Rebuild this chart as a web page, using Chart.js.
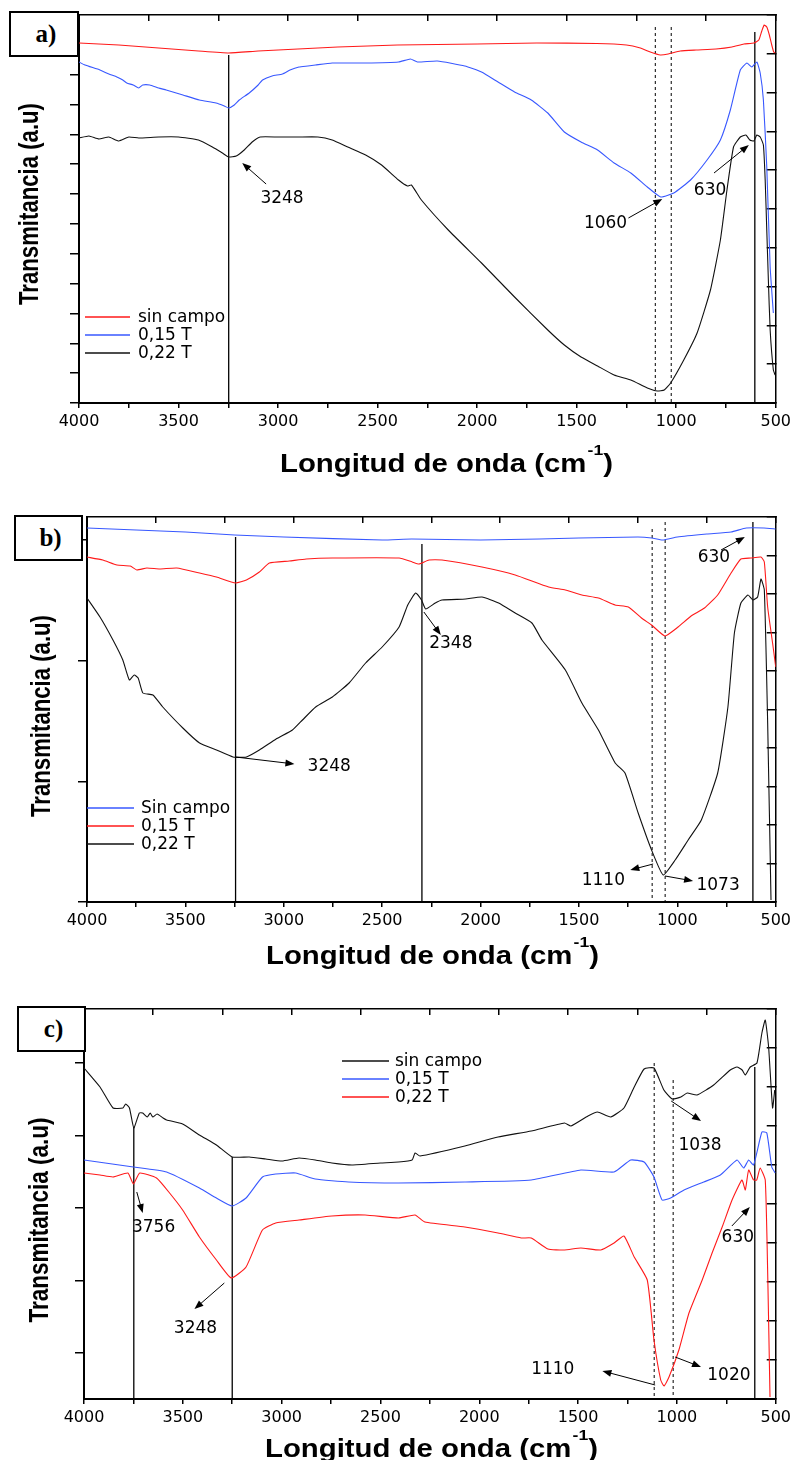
<!DOCTYPE html>
<html>
<head>
<meta charset="utf-8">
<script src="https://cdn.jsdelivr.net/npm/chart.js@4.4.1/dist/chart.umd.min.js"></script>
<style>
body{margin:0;background:#fff;width:795px;height:1460px;position:relative;overflow:hidden}
canvas{position:absolute;left:0}
.tag{position:absolute;border:2px solid #000;box-sizing:border-box;background:#fff;font:bold 25px "Liberation Serif","DejaVu Serif",serif;display:flex;align-items:center;justify-content:center;padding-left:4px}
</style>
</head>
<body>
<canvas id="chA" width="795" height="490" style="top:0"></canvas>
<canvas id="chB" width="795" height="490" style="top:490px"></canvas>
<canvas id="chC" width="795" height="480" style="top:980px"></canvas>
<div class="tag" style="left:9px;top:11px;width:70px;height:46px">a)</div>
<div class="tag" style="left:14px;top:515px;width:69px;height:46px">b)</div>
<div class="tag" style="left:17px;top:1006px;width:69px;height:46px">c)</div>
<script>
/* FTIR — Transmitancia vs longitud de onda, tres paneles */

const RED='#ff1a1a',BLUE='#3858ff',BLACK='#111';
const labelsA=['sin campo','0,15 T','0,22 T'];
const labelsB=['Sin campo','0,15 T','0,22 T'];
const labelsC=['sin campo','0,15 T','0,22 T'];

// panel a) -------------------------------------------------------
const aRedX=[4000,3800,3600,3400,3248,3100,2900,2700,2400,2000,1700,1400,1250,1180,1130,1080,1040,980,900,800,720,660,610,585,570,558,545,532,520,510,502];
const aRedY=[360,358,355,352,350,352,354,356,358,359,360,359.5,358,355,351,348,349,352,353,354,356,359,360,363,372,378,376,368,358,351,350];
const aBlueX=[4000,3970,3895,3850,3810,3780,3760,3728,3700,3680,3645,3600,3562,3478,3395,3312,3270,3248,3220,3195,3145,3100,3078,3030,2978,2940,2895,2850,2812,2728,2562,2395,2335,2300,2200,2062,1978,1895,1812,1728,1645,1562,1478,1395,1312,1228,1145,1078,1012,928,845,778,728,678,645,620,595,578,562,545,528,512];
const aBlueY=[341,338,333,329,326,323,320,318,315,318,318,315,313,308,303,300,297,295,298,303,310,318,323,327,329,333,336,337,338,340,340,341,344,341,342,337,331,321,311,303,290,271,261,253,240,230,216,206,210,223,243,263,293,333,340,336,341,330,303,236,136,90];
const aBlackX=[4000,3950,3900,3850,3800,3750,3700,3600,3500,3400,3330,3280,3248,3210,3170,3130,3090,3000,2900,2800,2728,2650,2560,2480,2395,2350,2330,2280,2145,1978,1812,1645,1562,1478,1395,1312,1228,1145,1095,1060,1028,962,895,828,778,745,712,678,650,630,610,595,578,562,553,545,537,528,512,503];
const aBlackY=[265,267,264,266,262,266,265,266,266,263,256,250,246,247,253,261,266,266,266,266,263,256,248,238,223,217,218,203,173,140,106,73,58,46,37,28,23,15,12,13,20,43,70,113,163,213,256,266,268,263,262,268,266,258,223,173,123,73,33,28];
const aMarks=[[3248,348,0],[605,371,0],[1105,376,1],[1025,376,1]];
const aNotes=[
  {t:'3248',x:2980,y:204,ax:[3060,219,3180,240]},
  {t:'1060',x:1355,y:179,ax:[1240,185,1070,204]},
  {t:'630',x:830,y:212,ax:[810,230,635,258]}
];

// panel b) -------------------------------------------------------
const bBlueX=[4000,3500,3250,3000,2500,2350,2000,1700,1500,1200,1130,1075,1000,850,727,650,560,500];
const bBlueY=[374,370,367,365,362,363,362,363,364,365,364,362,365,368,370,374,374,373];
const bRedX=[4000,3920,3848,3780,3747,3696,3630,3544,3428,3342,3245,3190,3124,3073,2972,2886,2753,2414,2347,2313,2262,2196,1993,1824,1654,1569,1485,1401,1316,1249,1182,1131,1063,996,930,862,795,727,677,626,575,558,541,516,500];
const bRedY=[345,342,337,336,332,334,333,334,329,325,319,322,330,339,341,343,344,344,340,338,342,342,335,327,315,312,307,304,297,295,284,277,266,275,286,294,307,329,343,344,345,340,295,259,235];
const bBlackX=[4000,3934,3868,3818,3785,3760,3740,3716,3665,3615,3513,3428,3342,3258,3190,3124,3039,2956,2905,2838,2753,2668,2584,2500,2414,2370,2330,2300,2279,2230,2196,2076,1993,1908,1824,1739,1688,1569,1485,1401,1316,1266,1199,1131,1072,1011,945,878,795,743,710,677,641,616,592,575,558,541,524];
const bBlackY=[304,285,262,242,222,227,224,209,207,195,174,159,152,145,145,152,163,172,182,195,205,219,239,255,275,297,309,302,293,299,302,303,305,299,289,279,262,232,199,172,139,129,89,52,27,42,62,82,129,195,269,299,307,302,305,323,312,179,2];
const bMarks=[[3245,365,0],[2298,358,0],[616,380,0],[1128,373,1],[1062,380,1]];
const bNotes=[
  {t:'3248',x:2769,y:135,ax:[3245,145,2946,138]},
  {t:'2348',x:2151,y:258,ax:[2288,290,2202,267]},
  {t:'630',x:814,y:344,ax:[778,352,657,365]},
  {t:'1110',x:1376,y:21,ax:[1123,38,1239,32]},
  {t:'1073',x:793,y:16,ax:[1062,26,920,21]}
];

// panel c) -------------------------------------------------------
const cBlackX=[4000,3919,3853,3803,3789,3770,3748,3720,3703,3680,3665,3652,3630,3600,3582,3501,3416,3330,3250,3164,3080,2998,2912,2830,2746,2644,2500,2409,2340,2325,2300,2073,1905,1737,1569,1536,1450,1402,1335,1268,1216,1166,1116,1066,1024,980,948,898,814,730,696,670,654,629,595,570,553,536,516,505];
const cBlackY=[331,312,291,291,295,291,271,286,286,282,286,282,285,281,279,275,264,254,242,242,240,238,241,239,236,234,236,237,239,246,243,253,262,268,276,273,283,287,282,291,312,330,331,309,300,302,306,304,314,329,332,329,324,332,336,366,379,352,291,309];
const cBlueX=[4000,3750,3582,3416,3330,3250,3180,3097,3030,2929,2830,2662,2409,2073,1737,1486,1318,1234,1166,1116,1075,1032,964,864,780,696,662,637,612,570,545,520,503];
const cBlueY=[239,232,227,211,201,193,201,222,225,226,220,217,216,217,219,229,227,239,237,222,199,201,209,217,224,239,231,239,234,267,266,232,226];
const cRedX=[4000,3919,3853,3778,3750,3718,3633,3567,3501,3416,3330,3255,3180,3097,3030,2912,2746,2578,2409,2325,2275,2073,1905,1788,1737,1653,1569,1486,1385,1318,1268,1216,1150,1116,1082,1065,1040,990,939,872,822,771,721,671,654,637,612,596,579,553,540,529];
const cRedY=[226,224,222,226,215,226,221,206,189,162,139,121,132,169,176,179,183,184,181,184,177,172,166,161,161,150,149,151,149,156,163,142,119,59,19,13,22,49,86,119,146,172,199,219,209,229,219,219,231,219,119,2];
const cMarks=[[3748,272,0],[3250,242,0],[606,332,0],[1115,336,1],[1019,319,1]];
const cNotes=[
  {t:'3756',x:3648,y:171,ax:[3733,207,3703,186]},
  {t:'3248',x:3436,y:70,ax:[3290,116,3441,90]},
  {t:'1038',x:883,y:253,ax:[1029,298,878,278]},
  {t:'630',x:692,y:161,ax:[722,173,631,192]},
  {t:'1110',x:1628,y:29,ax:[1110,14,1377,28]},
  {t:'1020',x:737,y:23,ax:[1009,42,878,32]}
];
const cLeftTicks=[46,118.5,191,263.5,336];

function arrow(ctx,x1,y1,x2,y2){
  const a=Math.atan2(y2-y1,x2-x1),L=9,W=3.5;
  ctx.lineWidth=1;
  ctx.beginPath();ctx.moveTo(x1,y1);ctx.lineTo(x2-Math.cos(a)*L*0.8,y2-Math.sin(a)*L*0.8);ctx.stroke();
  ctx.beginPath();ctx.moveTo(x2,y2);
  ctx.lineTo(x2-Math.cos(a)*L+Math.sin(a)*W,y2-Math.sin(a)*L-Math.cos(a)*W);
  ctx.lineTo(x2-Math.cos(a)*L-Math.sin(a)*W,y2-Math.sin(a)*L+Math.cos(a)*W);
  ctx.closePath();ctx.fill();
}

function deco(p){
  return {id:'deco',afterDraw(chart){
    const ctx=chart.ctx,xs=chart.scales.x,ys=chart.scales.y;
    const px=w=>xs.getPixelForValue(w),py=v=>ys.getPixelForValue(v);
    ctx.save();
    ctx.fillStyle='#000';ctx.strokeStyle='#000';
    // peak labels + arrows
    ctx.font='17px "DejaVu Sans"';ctx.textAlign='center';ctx.textBaseline='middle';
    p.notes.forEach(n=>{
      ctx.fillText(n.t,px(n.x),py(n.y));
      arrow(ctx,px(n.ax[0]),py(n.ax[1]),px(n.ax[2]),py(n.ax[3]));
    });
    // legend
    ctx.font='17px "DejaVu Sans"';ctx.textAlign='left';
    p.series.forEach((s,i)=>{
      const yy=p.leg.y+i*18;
      ctx.strokeStyle=s.color;ctx.lineWidth=1.4;
      ctx.beginPath();ctx.moveTo(p.leg.x0,yy);ctx.lineTo(p.leg.x1,yy);ctx.stroke();
      ctx.fillText(s.label,p.leg.tx,yy+1);
    });
    // y title
    ctx.save();
    ctx.translate(p.yt.x,p.yt.y);ctx.rotate(-Math.PI/2);
    ctx.font='bold 28px "Liberation Sans", Arial, sans-serif';ctx.textAlign='center';
    const yw=ctx.measureText('Transmitancia (a.u)').width;
    ctx.scale(p.yt.len/yw,1);
    ctx.fillText('Transmitancia (a.u)',0,0);
    ctx.restore();
    // x title with superscript
    ctx.save();
    ctx.textAlign='left';ctx.textBaseline='alphabetic';
    const f1='bold 25px "Liberation Sans", Arial, sans-serif',f2='bold 15px "Liberation Sans", Arial, sans-serif';
    const t1='Longitud de onda (cm',t2='-1',t3=')';
    ctx.font=f1;const w1=ctx.measureText(t1).width,w3=ctx.measureText(t3).width;
    ctx.font=f2;const w2=ctx.measureText(t2).width;
    ctx.translate(p.xt.x,p.xt.y);ctx.scale(p.xt.len/(w1+w2+w3+1),1);
    ctx.font=f1;ctx.fillText(t1,0,0);
    ctx.font=f2;ctx.fillText(t2,w1+1,-17);
    ctx.font=f1;ctx.fillText(t3,w1+w2+1,0);
    ctx.restore();
    ctx.restore();
  }};
}

function buildPanel(id,p){
  const sets=p.series.map(s=>({
    data:s.x.map((w,i)=>({x:w,y:s.y[i]})),
    borderColor:s.color,borderWidth:1.1,pointRadius:0,tension:0.15,fill:false
  }));
  p.marks.forEach(m=>sets.push({
    data:[{x:m[0],y:m[1]},{x:m[0],y:0}],
    borderColor:'#000',borderWidth:m[2]?1:1.3,borderDash:m[2]?[3,3]:[],pointRadius:0,fill:false
  }));
  const yLeft={type:'linear',position:'left',min:0,max:p.yMax,
    ticks:{display:false,stepSize:p.leftStep,includeBounds:false},
    grid:{drawOnChartArea:false,tickLength:9,color:'#000',lineWidth:1.5},
    border:{color:'#000',width:2},
    afterFit:s=>{s.width=p.leftW}};
  if(p.leftTicks) yLeft.afterBuildTicks=s=>{s.ticks=p.leftTicks.map(v=>({value:v}))};
  new Chart(document.getElementById(id),{
    type:'line',
    data:{datasets:sets},
    options:{
      responsive:false,animation:false,
      layout:{padding:0},
      plugins:{legend:{display:false},tooltip:{enabled:false}},
      scales:{
        x:{type:'linear',position:'bottom',reverse:true,min:500,max:4000,
          ticks:{stepSize:250,autoSkip:false,maxRotation:0,padding:4,color:'#000',
            font:{family:'DejaVu Sans',size:16},callback:v=>v%500===0?String(v):''},
          grid:{drawOnChartArea:false,tickLength:5,color:'#000',lineWidth:1.5},
          border:{color:'#000',width:2},
          afterFit:s=>{s.height=p.bottomH}},
        xTop:{type:'linear',position:'top',reverse:true,min:500,max:4000,
          ticks:{display:false,stepSize:350},
          grid:{drawOnChartArea:false,tickLength:-6,color:'#000',lineWidth:1.5},
          border:{color:'#000',width:1.5},
          afterFit:s=>{s.height=p.topH}},
        y:yLeft,
        yRight:{type:'linear',position:'right',min:0,max:p.yMax,
          ticks:{display:false,stepSize:p.rightStep,includeBounds:false},
          grid:{drawOnChartArea:false,tickLength:-9,color:'#000',lineWidth:1.5},
          border:{color:'#000',width:1.5},
          afterFit:s=>{s.width=p.rightW}}
      }
    },
    plugins:[deco(p)]
  });
}

buildPanel('chA',{
  series:[{x:aRedX,y:aRedY,color:RED,label:labelsA[0]},{x:aBlueX,y:aBlueY,color:BLUE,label:labelsA[1]},{x:aBlackX,y:aBlackY,color:BLACK,label:labelsA[2]}],
  marks:aMarks,notes:aNotes,yMax:388,leftStep:29.85,rightStep:38.8,
  leftW:79,rightW:16,topH:15,bottomH:87,
  leg:{x0:85,x1:130,tx:138,y:317},yt:{x:30,y:204,len:202},xt:{x:280,y:472,len:333}
});
buildPanel('chB',{
  series:[{x:bBlueX,y:bBlueY,color:BLUE,label:labelsB[0]},{x:bRedX,y:bRedY,color:RED,label:labelsB[1]},{x:bBlackX,y:bBlackY,color:BLACK,label:labelsB[2]}],
  marks:bMarks,notes:bNotes,yMax:385,leftStep:120.7,rightStep:38.5,
  leftW:87,rightW:17,topH:27,bottomH:78,
  leg:{x0:87,x1:134,tx:141,y:318},yt:{x:42,y:226,len:202},xt:{x:266,y:474,len:333}
});
buildPanel('chC',{
  series:[{x:cBlackX,y:cBlackY,color:BLACK,label:labelsC[0]},{x:cBlueX,y:cBlueY,color:BLUE,label:labelsC[1]},{x:cRedX,y:cRedY,color:RED,label:labelsC[2]}],
  marks:cMarks,notes:cNotes,yMax:390,leftTicks:cLeftTicks,rightStep:39,
  leftW:84,rightW:16,topH:29,bottomH:61,
  leg:{x0:342,x1:389,tx:395,y:81},yt:{x:40,y:240,len:205},xt:{x:265,y:477,len:333}
});
</script>
</body>
</html>
